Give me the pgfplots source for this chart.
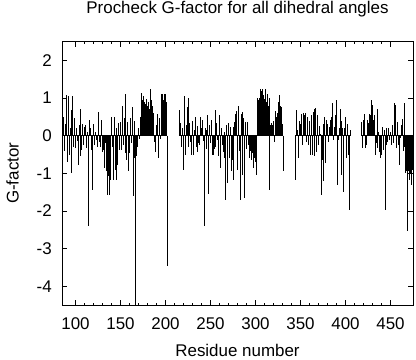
\documentclass[border=0pt]{standalone}
\usepackage{pgfplots}
\pgfplotsset{compat=1.18}
\usepackage{fontspec}
\setmainfont{Liberation Sans}
\begin{document}
\begin{tikzpicture}
\begin{axis}[
  name=ax, at={(0,0)}, anchor=south west,
  scale only axis, width=351bp, height=263.3bp,
  xmin=85, xmax=475, ymin=-4.5, ymax=2.5,
  xtick={100,150,200,250,300,350,400,450},
  xticklabels={100,150,200,250,300,350,400,450},
  minor x tick num=4,
  ytick={-4,-3,-2,-1,0,1,2}, yticklabels={-4,-3,-2,-1,0,1,2},
  tick align=inside, major tick length=5bp, minor tick length=2.5bp,
  tick style={black, line width=0.6bp},
  axis line style={line width=0.8bp},
  tick label style={font=\fontsize{17}{20}\selectfont, inner sep=0pt},
  xticklabel style={anchor=north, yshift=-12bp},
  yticklabel style={anchor=east, xshift=-10bp},
  xlabel={Residue number}, ylabel={G-factor},
  label style={font=\fontsize{17}{20}\selectfont},
  xlabel style={at={(axis description cs:0.5,-0.171)}, anchor=center},
  ylabel style={at={(axis description cs:-0.141,0.5)}, anchor=center},
  title={Procheck G-factor for all dihedral angles},
  title style={font=\fontsize{17}{20}\selectfont, at={(axis description cs:0.5,1.101)}, anchor=center},
  clip=true,
]
% zero baselines of the residue ranges
\addplot[black, line width=0.9bp] coordinates {(85,0) (202,0)};
\addplot[black, line width=0.9bp] coordinates {(215,0) (331,0)};
\addplot[black, line width=0.9bp] coordinates {(344,0) (405,0)};
\addplot[black, line width=0.9bp] coordinates {(418,0) (474,0)};
\addplot[ycomb, black, line width=0.9bp, mark=none] coordinates {
(85,-2.35)(86,-0.8)(87,0.5)(88,-0.4)(89,0.3)(90,1.08)(91,-0.7)(92,1.05)(93,-0.5)(94,0.2)
(95,0.68)(96,-1.0)(97,1.05)(98,-0.3)(99,0.46)(100,-0.33)(101,0.2)(102,-0.15)(103,-0.78)(104,0.28)
(105,0.7)(106,-0.55)(107,-0.38)(108,0.32)(109,-0.25)(110,0.24)(111,0.28)(112,-0.33)(113,0.1)(114,-2.4)
(115,0.2)(116,0.43)(117,0.2)(118,-0.38)(119,-1.45)(120,0.32)(121,-0.25)(122,0.1)(123,-0.12)(124,-0.3)
(125,0.33)(126,0.63)(127,-0.16)(128,-0.3)(129,0.43)(130,-0.42)(131,-0.38)(132,-0.86)(133,-0.2)(134,-0.95)
(135,-1.57)(136,-1.44)(137,-1.08)(138,-1.57)(139,-1.17)(140,0.5)(141,-0.3)(142,-1.17)(143,0.5)(144,-0.9)
(145,0.2)(146,-1.17)(147,-0.78)(148,0.33)(149,-0.38)(150,0.37)(151,-0.38)(152,0.8)(153,-0.25)(154,0.46)
(155,1.1)(156,-0.47)(157,-0.64)(158,0.37)(159,-0.95)(160,-0.47)(161,0.46)(162,-0.2)(163,0.77)(164,-1.6)
(165,0.4)(166,-0.6)(167,-4.6)(168,-0.55)(169,-0.3)(170,0.2)(171,-0.1)(172,0.5)(173,1.14)(174,0.95)
(175,1.05)(176,0.8)(177,0.9)(178,0.85)(179,0.97)(180,0.8)(181,0.9)(182,0.7)(183,1.25)(184,0.95)
(185,0.75)(186,0.78)(187,0.6)(188,-0.16)(189,-0.42)(190,0.28)(191,0.57)(192,-0.6)(193,0.46)(194,-0.1)
(195,0.3)(196,1.12)(197,1.1)(198,0.94)(199,1.12)(200,1.1)(201,0.9)(202,-3.45)
(215,0.5)(216,0.68)(217,0.33)(218,-0.29)(219,0.2)(220,-0.91)(221,1.05)(222,-0.51)(223,0.28)(224,0.77)
(225,1.0)(226,-0.3)(227,0.33)(228,-0.16)(229,-0.5)(230,0.4)(231,-0.51)(232,0.15)(233,0.5)(234,-0.3)
(235,-0.42)(236,0.25)(237,-0.2)(238,-0.25)(239,0.5)(240,0.2)(241,0.43)(242,-0.15)(243,-2.4)(244,0.2)
(245,0.15)(246,-0.35)(247,0.55)(248,-1.55)(249,0.28)(250,-0.2)(251,0.41)(252,-0.5)(253,-0.51)(254,-0.35)
(255,-0.29)(256,0.68)(257,0.33)(258,-0.12)(259,-0.55)(260,0.55)(261,-0.86)(262,0.2)(263,-0.25)(264,-0.42)
(265,-0.6)(266,0.1)(267,-1.72)(268,0.28)(269,-1.26)(270,0.33)(271,-0.6)(272,0.24)(273,-0.95)(274,-0.65)
(275,0.24)(276,-1.17)(277,0.37)(278,0.59)(279,0.66)(280,-0.92)(281,0.78)(282,-0.4)(283,-1.72)(284,0.59)
(285,0.63)(286,-1.05)(287,0.46)(288,-1.65)(289,0.37)(290,-0.35)(291,0.37)(292,-0.25)(293,-0.6)(294,-0.4)
(295,-0.55)(296,-0.65)(297,-0.45)(298,-0.85)(299,-0.6)(300,-0.7)(301,-1.04)(302,1.0)(303,0.95)(304,1.0)
(305,1.08)(306,1.25)(307,1.2)(308,1.25)(309,1.07)(310,0.98)(311,1.25)(312,0.9)(313,1.1)(314,0.8)
(315,1.0)(316,-1.45)(317,0.28)(318,0.35)(319,0.28)(320,0.4)(321,-0.16)(322,0.66)(323,0.5)(324,0.6)
(325,0.9)(326,0.75)(327,1.07)(328,0.8)(329,0.77)(330,0.3)(331,-0.95)
(344,-1.19)(345,0.28)(346,0.68)(347,0.15)(348,-0.6)(349,0.4)(350,0.3)(351,0.59)(352,-0.25)(353,0.6)
(354,0.55)(355,0.43)(356,0.6)(357,-0.16)(358,0.5)(359,-0.25)(360,0.4)(361,-0.51)(362,0.55)(363,-0.51)
(364,0.62)(365,0.72)(366,-0.55)(367,0.73)(368,-0.42)(369,0.55)(370,-0.25)(371,0.25)(372,0.05)(373,-1.57)
(374,-0.65)(375,0.3)(376,-1.2)(377,0.5)(378,-0.73)(379,0.41)(380,0.32)(381,-0.16)(382,0.24)(383,0.41)
(384,0.5)(385,0.86)(386,0.15)(387,-0.12)(388,0.24)(389,0.55)(390,0.94)(391,-1.3)(392,-0.12)(393,0.2)
(394,0.72)(395,0.4)(396,-1.04)(397,0.2)(398,-1.5)(399,0.2)(400,0.5)(401,-0.6)(402,0.3)(403,-0.5)
(404,-1.97)(405,0.15)
(418,0.37)(419,-0.33)(420,0.41)(421,0.59)(422,-0.33)(423,-0.25)(424,0.41)(425,0.33)(426,0.06)(427,0.59)
(428,0.55)(429,0.94)(430,0.81)(431,0.41)(432,0.55)(433,-0.51)(434,-0.2)(435,0.72)(436,-0.33)(437,0.1)
(438,-0.42)(439,-0.6)(440,-0.51)(441,0.24)(442,-0.38)(443,0.15)(444,-1.97)(445,0.2)(446,-0.25)(447,-0.16)
(448,0.2)(449,-0.12)(450,0.1)(451,-0.25)(452,0.28)(453,-0.2)(454,0.86)(455,0.81)(456,0.37)(457,-0.33)
(458,0.37)(459,-0.25)(460,-0.78)(461,-0.07)(462,0.28)(463,0.45)(464,-0.4)(465,0.86)(466,-0.3)(467,-1.0)
(468,-0.95)(469,-2.54)(470,-0.95)(471,-1.17)(472,-1.0)(473,-1.3)(474,-0.9)
};
\end{axis}
\pgfresetboundingbox
\path[use as bounding box] (-62bp,-55bp) rectangle (354bp,305bp);
\end{tikzpicture}
\end{document}
